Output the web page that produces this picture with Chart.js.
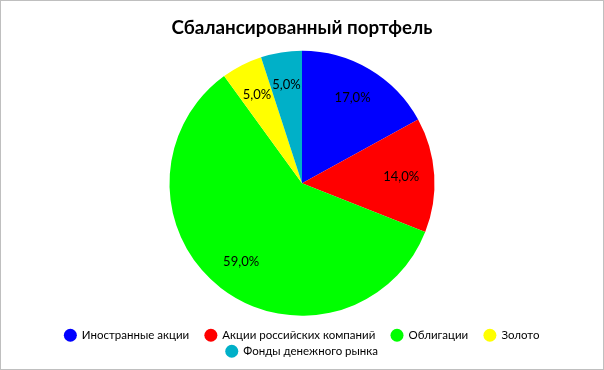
<!DOCTYPE html>
<html>
<head>
<meta charset="utf-8">
<script src="https://cdn.jsdelivr.net/npm/chart.js@4/dist/chart.umd.min.js"></script>
<style>
    html, body { margin: 0; padding: 0; background: #fff; }
    #marco {
        width: 604px;
        height: 370px;
        box-sizing: border-box;
        border: 1px solid #bfbfbf;
        position: relative;
    }
</style>
</head>
<body>
<div id="marco"><canvas id="grafico" width="602" height="368"></canvas></div>
<script>
// Datos del gráfico
const categorias = ['Иностранные акции', 'Акции российских компаний', 'Облигации', 'Золото', 'Фонды денежного рынка'];
const porcentajes = [17, 14, 59, 5, 5];
const colores = ['#0000ff', '#ff0000', '#00ff00', '#ffff00', '#00b0c8'];
const titulo = 'Сбалансированный портфель';

const fuente = 'Lato, "Open Sans", sans-serif';
const tamLeyenda = 11.5;

// Etiquetas dentro de cada sector
const etiquetasSectores = {
    id: 'etiquetasSectores',
    afterDatasetsDraw(chart) {
        const ctx = chart.ctx;
        const meta = chart.getDatasetMeta(0);
        ctx.save();
        ctx.font = '13px ' + fuente;
        ctx.fillStyle = '#000';
        ctx.textAlign = 'center';
        ctx.textBaseline = 'middle';
        meta.data.forEach((arco, i) => {
            const p = arco.getProps(['x', 'y', 'startAngle', 'endAngle', 'outerRadius'], true);
            const medio = (p.startAngle + p.endAngle) / 2;
            const r = p.outerRadius * 0.75;
            const texto = porcentajes[i].toFixed(1).replace('.', ',') + '%';
            ctx.fillText(texto, p.x + Math.cos(medio) * r, p.y + Math.sin(medio) * r);
        });
        ctx.restore();
    }
};

new Chart(document.getElementById('grafico'), {
    type: 'pie',
    data: {
        labels: categorias,
        datasets: [{
            data: porcentajes,
            backgroundColor: colores,
            borderWidth: 0,
            radius: 132.5
        }]
    },
    options: {
        responsive: false,
        animation: false,
        layout: { padding: { top: 0, bottom: 2, left: 0, right: 0 } },
        plugins: {
            title: {
                display: true,
                text: titulo,
                color: '#000',
                font: { family: fuente, size: 18.8, weight: 'bold' },
                padding: { top: 16, bottom: 2 }
            },
            legend: {
                position: 'bottom',
                labels: {
                    color: '#000',
                    font: { family: fuente, size: tamLeyenda },
                    usePointStyle: true,
                    pointStyle: 'circle',
                    boxWidth: tamLeyenda,
                    boxHeight: 9.2,
                    padding: 4.5,
                    // espacio extra entre elementos de la misma fila
                    generateLabels(chart) {
                        const items = Chart.overrides.pie.plugins.legend.labels.generateLabels(chart);
                        items.forEach((item, i) => {
                            if (i < 3) item.text += '\u2002\u2002';
                        });
                        return items;
                    }
                }
            },
            tooltip: { enabled: false }
        }
    },
    plugins: [etiquetasSectores]
});
</script>
</body>
</html>
